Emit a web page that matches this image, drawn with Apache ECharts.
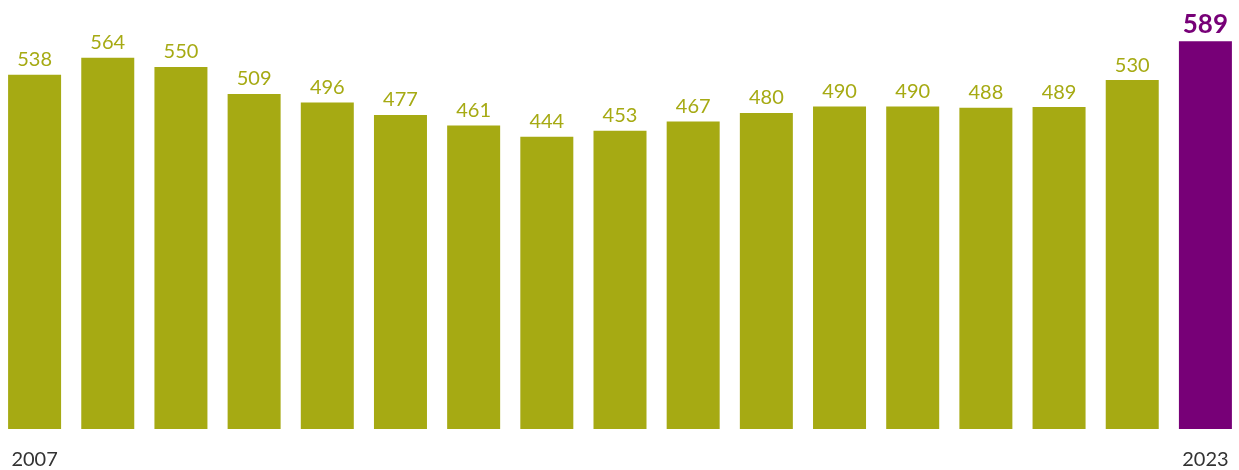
<!DOCTYPE html>
<html><head><meta charset="utf-8">
<script src="https://cdn.jsdelivr.net/npm/echarts@6/dist/echarts.min.js"></script>
<style>html,body{margin:0;padding:0;background:#fff;overflow:hidden}#c{position:absolute;left:-2px;top:0;width:1244px;height:470px}</style>
</head><body><div id="c"></div>
<script>
const years = ['2007','2008','2009','2010','2011','2012','2013','2014','2015','2016','2017','2018','2019','2020','2021','2022','2023'];
const values = [538,564,550,509,496,477,461,444,453,467,480,490,490,488,489,530,589];
const shownYears = ['2007','2023'];
const olive = '#A6AA13';
const purple = '#770077';
const last = values.length - 1;
const chart = echarts.init(document.getElementById('c'));
chart.setOption({
  animation: false,
  grid: {left: 0, right: 0, top: 34, bottom: 40, containLabel: false},
  xAxis: {
    type: 'category', data: years,
    axisLine: {show: false}, axisTick: {show: false},
    axisLabel: {
      interval: 0,
      formatter: v => shownYears.includes(v) ? v : '',
      color: '#333', fontFamily: 'Lato', fontSize: 20, margin: 21
    }
  },
  yAxis: {type: 'value', min: 0, max: 600, show: false, splitLine: {show: false}},
  series: [{
    type: 'bar', barWidth: 53,
    data: values.map((v, i) => ({
      value: v,
      itemStyle: {color: i === last ? purple : olive},
      label: i === last ? {color: purple, fontWeight: 'bold', fontSize: 26, distance: 4} : {}
    })),
    label: {show: true, position: 'top', color: olive, fontFamily: 'Lato', fontSize: 20, distance: 5}
  }]
});
</script></body></html>
